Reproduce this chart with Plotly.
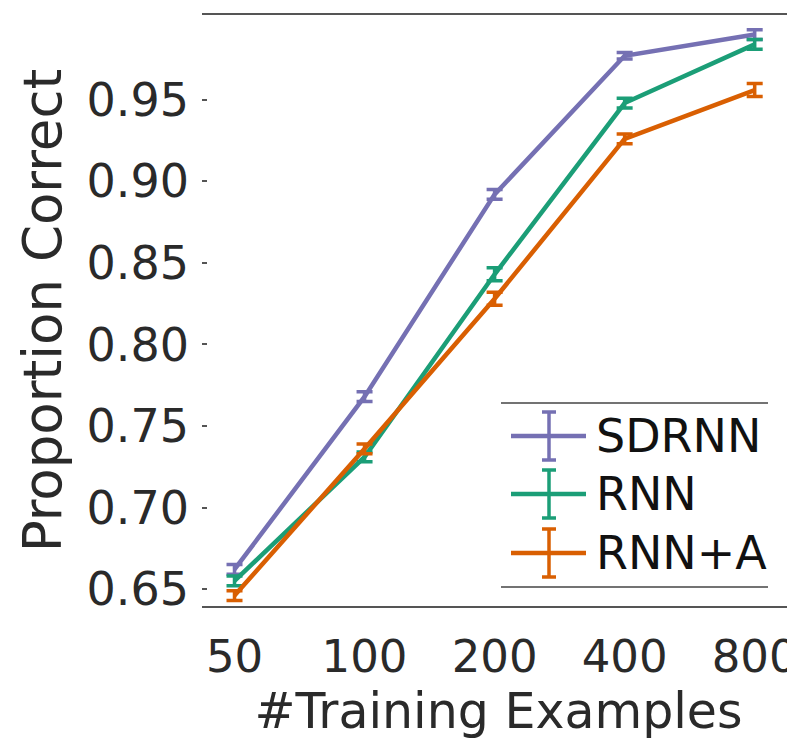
import plotly.graph_objects as go

x_labels = ["50", "100", "200", "400", "800"]
x_pos = [0, 1, 2, 3, 4]

series_names = ["SDRNN", "RNN", "RNN+A"]
sdrnn = [0.662, 0.768, 0.892, 0.977, 0.990]
sdrnn_err = [0.003, 0.003, 0.003, 0.002, 0.003]
rnn = [0.655, 0.731, 0.843, 0.948, 0.984]
rnn_err = [0.003, 0.003, 0.004, 0.003, 0.003]
rnna = [0.646, 0.736, 0.828, 0.926, 0.956]
rnna_err = [0.003, 0.003, 0.004, 0.003, 0.004]

colors = ["#7570b3", "#1b9e77", "#d95f02"]
values = [sdrnn, rnn, rnna]
errors = [sdrnn_err, rnn_err, rnna_err]

W, H = 795, 747
L, R, T, B = 194, 8, 7, 149
PW, PH = W - L - R, H - T - B

def px(xp):
    return (xp - L) / PW

def py(yp):
    return (H - B - yp) / PH

fig = go.Figure()
for name, vals, errs, col in zip(series_names, values, errors, colors):
    fig.add_trace(go.Scatter(
        x=x_pos, y=vals, name=name, mode="lines",
        line=dict(color=col, width=4.5),
        error_y=dict(type="data", array=errs, visible=True,
                     color=col, thickness=3.5, width=8),
        showlegend=False,
    ))

font_family = "DejaVu Sans"
text_color = "#2a2a2a"

# manual legend (positions are styling only)
shapes = []
annotations = []
shapes.append(dict(type="line", xref="paper", yref="paper",
                   x0=px(493), x1=px(760), y0=py(395), y1=py(395),
                   line=dict(color="#444", width=1.5)))
shapes.append(dict(type="line", xref="paper", yref="paper",
                   x0=px(493), x1=px(760), y0=py(579), y1=py(579),
                   line=dict(color="#444", width=1.5)))
centers = [428, 486, 545]
for name, col, cy in zip(series_names, colors, centers):
    shapes.append(dict(type="line", xref="paper", yref="paper",
                       x0=px(503), x1=px(578), y0=py(cy), y1=py(cy),
                       line=dict(color=col, width=4.5)))
    shapes.append(dict(type="line", xref="paper", yref="paper",
                       x0=px(541), x1=px(541), y0=py(cy - 24), y1=py(cy + 24),
                       line=dict(color=col, width=3.5)))
    for dy in (-24, 24):
        shapes.append(dict(type="line", xref="paper", yref="paper",
                           x0=px(534), x1=px(548), y0=py(cy + dy), y1=py(cy + dy),
                           line=dict(color=col, width=3.5)))
    annotations.append(dict(xref="paper", yref="paper", x=px(586), y=py(cy),
                            text=name, showarrow=False, xanchor="left",
                            yanchor="middle",
                            font=dict(family=font_family, size=46, color="#111")))

fig.update_layout(
    width=W, height=H,
    margin=dict(l=L, r=R, t=T, b=B, autoexpand=False),
    paper_bgcolor="white", plot_bgcolor="white",
    font=dict(family=font_family, color=text_color),
    shapes=shapes, annotations=annotations,
    showlegend=False,
)
fig.update_xaxes(
    range=[-0.25, 4.31], tickvals=x_pos, ticktext=x_labels,
    showgrid=False, zeroline=False,
    showline=True, mirror=True, linecolor="#555", linewidth=1.5,
    ticks="", tickfont=dict(size=45, color=text_color),
    ticklabelstandoff=10,
    title=dict(text="#Training Examples", font=dict(size=49, color=text_color),
               standoff=4),
    automargin=False,
)
fig.update_yaxes(
    range=[0.6396, 1.002],
    tickvals=[0.65, 0.70, 0.75, 0.80, 0.85, 0.90, 0.95],
    ticktext=["0.65", "0.70", "0.75", "0.80", "0.85", "0.90", "0.95"],
    showgrid=False, zeroline=False, showline=False,
    ticks="inside", mirror="ticks", ticklen=5, tickwidth=1.5, tickcolor="#555",
    tickfont=dict(size=46, color=text_color),
    ticklabelstandoff=12,
    title=dict(text="Proportion Correct", font=dict(size=53, color=text_color),
               standoff=8),
    automargin=False,
)

fig.write_html("out.html")
